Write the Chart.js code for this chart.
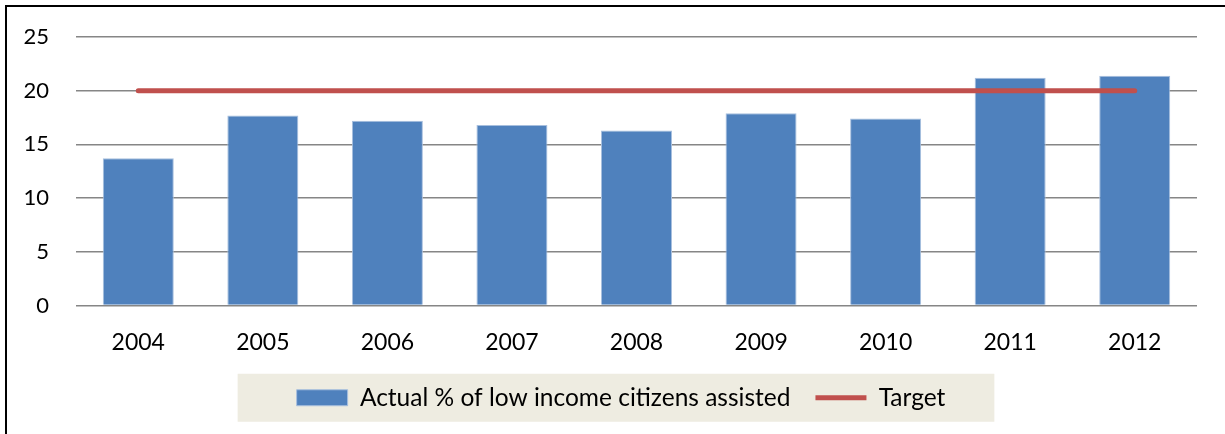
<!DOCTYPE html>
<html>
<head>
<meta charset="utf-8">
<script src="https://cdn.jsdelivr.net/npm/chart.js@4"></script>
<style>
html,body{margin:0;padding:0;background:#fff;}
#wrap{position:relative;width:1225px;height:434px;}
</style>
</head>
<body>
<div id="wrap"><canvas id="c" width="1225" height="434"></canvas></div>
<script>
const categories = ['2004','2005','2006','2007','2008','2009','2010','2011','2012'];
const actualValues = [13.7, 17.7, 17.2, 16.8, 16.3, 17.9, 17.4, 21.2, 21.4];
const targetValues = [20, 20, 20, 20, 20, 20, 20, 20, 20];
const yTicks = [0, 5, 10, 15, 20, 25];
const seriesNames = ['Actual % of low income citizens assisted', 'Target'];

const frame = {
  id: 'frame',
  beforeDraw(chart) {
    const ctx = chart.ctx;
    const lg = chart.legend;
    if (lg && lg.legendHitBoxes && lg.legendHitBoxes.length) {
      const hb = lg.legendHitBoxes;
      const first = hb[0], last = hb[hb.length - 1];
      const cy = first.top + first.height / 2;
      const x0 = first.left - 59;
      const x1 = last.left + last.width + 49;
      ctx.save();
      ctx.fillStyle = '#EEECE1';
      ctx.fillRect(x0, cy - 24, x1 - x0, 48);
      ctx.restore();
    }
  },
  afterDraw(chart) {
    const ctx = chart.ctx;
    ctx.save();
    ctx.fillStyle = '#000';
    ctx.fillRect(5, 5, 2, 434);
    ctx.fillRect(5, 5, 1225, 2);
    ctx.restore();
  }
};

new Chart(document.getElementById('c'), {
  type: 'bar',
  data: {
    labels: categories,
    datasets: [
      {
        type: 'line',
        label: seriesNames[1],
        data: targetValues,
        borderColor: '#C0504D',
        backgroundColor: '#C0504D',
        borderWidth: 5,
        borderCapStyle: 'round',
        pointRadius: 0,
        pointHoverRadius: 0,
        pointStyle: 'line',
        order: 0
      },
      {
        type: 'bar',
        label: seriesNames[0],
        data: actualValues,
        backgroundColor: '#4F81BD',
        borderColor: '#A7BFDE',
        borderWidth: 1,
        categoryPercentage: 1,
        barPercentage: 0.57,
        pointStyle: 'rect',
        order: 1
      }
    ]
  },
  options: {
    responsive: false,
    animation: false,
    layout: { padding: { left: 45, right: 28, top: 37, bottom: 14 } },
    scales: {
      x: {
        grid: { display: false, drawTicks: false },
        border: { display: false },
        ticks: { color: '#000', font: { family: 'Lato', size: 23 }, padding: 23, maxRotation: 0 },
        afterFit(s) { s.height = 55; }
      },
      y: {
        min: 0, max: 25,
        afterBuildTicks(s) { s.ticks = yTicks.map(v => ({ value: v })); },
        grid: { color: '#868686', lineWidth: 1.5, drawTicks: false },
        border: { display: false },
        ticks: { color: '#000', font: { family: 'Lato', size: 22 }, mirror: true, crossAlign: 'far', padding: -52.5 },
        afterFit(s) { s.width = 31; }
      }
    },
    plugins: {
      tooltip: { enabled: false },
      legend: {
        position: 'bottom',
        reverse: true,
        labels: {
          color: '#000',
          font: { family: 'Lato', size: 24.5 },
          usePointStyle: true,
          pointStyleWidth: 51,
          boxHeight: 16,
          padding: 25
        }
      }
    }
  },
  plugins: [frame]
});
</script>
</body>
</html>
